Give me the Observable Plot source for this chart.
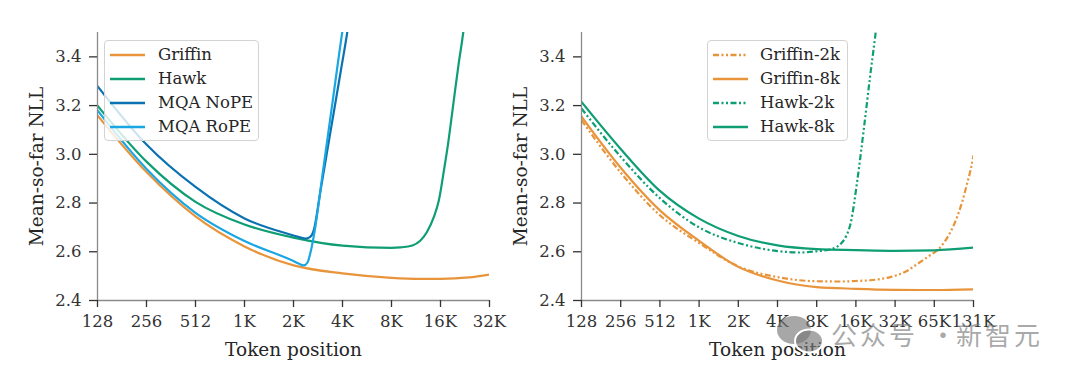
<!DOCTYPE html>
<html><head><meta charset="utf-8">
<script src="https://cdn.jsdelivr.net/npm/d3@7"></script>
<script src="https://cdn.jsdelivr.net/npm/@observablehq/plot@0.6"></script>
<style>
body{margin:0;background:#fff;}
#wrap{position:relative;width:1080px;height:380px;font-family:"DejaVu Serif",serif;overflow:hidden;}
#left{position:absolute;left:0;top:0;}
#right{position:absolute;left:540px;top:0;}
.legend{position:absolute;background:rgba(255,255,255,0.8);border:1.5px solid #d3d3d3;border-radius:4px;font-size:16.5px;color:#262626;box-sizing:border-box;}
.legend .row{position:absolute;left:0;height:20px;line-height:20px;white-space:nowrap;}
.legend svg{position:absolute;top:0;}
.legend span{position:absolute;top:0;}
.wm{position:absolute;font-family:"Noto Sans CJK SC",sans-serif;font-size:26px;color:rgba(130,130,130,0.7);letter-spacing:3px;line-height:30px;}
</style></head>
<body><div id="wrap"><div id="left"></div><div id="right"></div></div>
<script>
// ---------- Left panel data ----------
const leftTicks = [128, 256, 512, 1024, 2048, 4096, 8192, 16384, 32768];
const leftTickLabels = ["128", "256", "512", "1K", "2K", "4K", "8K", "16K", "32K"];

const griffinX = [128, 256, 512, 1024, 2048, 4096, 8192, 12288, 16384, 24576, 32768];
const griffinY = [3.16, 2.927, 2.745, 2.622, 2.544, 2.511, 2.493, 2.489, 2.489, 2.495, 2.507];

const hawkX = [128, 256, 512, 1024, 2048, 4096, 8192, 9300, 11000, 12300, 13500, 14900, 16000, 17200, 18300, 19300, 20300, 21200, 22800, 23500];
const hawkY = [3.20, 2.97, 2.805, 2.712, 2.658, 2.625, 2.616, 2.618, 2.626, 2.645, 2.68, 2.742, 2.81, 2.934, 3.05, 3.167, 3.28, 3.373, 3.52, 3.6];

const nopeX = [128, 256, 512, 1024, 2048, 2250, 2426, 2567, 2727, 3000, 3456, 3981, 4393, 4600];
const nopeY = [3.28, 3.04, 2.866, 2.737, 2.667, 2.659, 2.654, 2.659, 2.688, 2.85, 3.093, 3.335, 3.506, 3.6];

const ropeX = [128, 256, 512, 1024, 2048, 2200, 2369, 2496, 2621, 2767, 3085, 3554, 4096, 4300];
const ropeY = [3.18, 2.94, 2.76, 2.644, 2.562, 2.552, 2.544, 2.556, 2.605, 2.688, 2.916, 3.212, 3.508, 3.6];

// ---------- Right panel data ----------
const rightTicks = [128, 256, 512, 1024, 2048, 4096, 8192, 16384, 32768, 65536, 131072];
const rightTickLabels = ["128", "256", "512", "1K", "2K", "4K", "8K", "16K", "32K", "65K", "131K"];

const griffin2kX = [128, 256, 512, 1024, 2048, 4096, 8192, 12500, 16384, 24576, 30000, 40000, 48000, 58000, 73000, 85000, 98000, 108000, 117000, 125000, 131072];
const griffin2kY = [3.14, 2.925, 2.75, 2.636, 2.54, 2.496, 2.479, 2.478, 2.48, 2.487, 2.496, 2.52, 2.548, 2.578, 2.619, 2.67, 2.742, 2.81, 2.88, 2.94, 2.996];

const griffin8kX = [128, 256, 512, 1024, 2048, 4096, 8192, 16384, 32768, 65536, 131072];
const griffin8kY = [3.155, 2.945, 2.77, 2.645, 2.538, 2.482, 2.455, 2.448, 2.444, 2.443, 2.446];

const hawk2kX = [128, 256, 512, 1024, 2048, 4096, 6144, 8192, 10000, 11500, 12500, 13800, 14900, 16800, 18800, 21200, 23200, 24000];
const hawk2kY = [3.188, 2.99, 2.82, 2.70, 2.636, 2.603, 2.597, 2.602, 2.608, 2.618, 2.632, 2.665, 2.715, 2.893, 3.099, 3.332, 3.496, 3.56];

const hawk8kX = [128, 256, 512, 1024, 2048, 4096, 8192, 16384, 32768, 65536, 131072];
const hawk8kY = [3.215, 3.022, 2.85, 2.736, 2.665, 2.626, 2.611, 2.607, 2.604, 2.606, 2.617];

const yTicks = [2.4, 2.6, 2.8, 3.0, 3.2, 3.4];

// ---------- styles ----------
const ORANGE = "#e8943a", GREEN = "#0f9e74", BLUE = "#0a72b0", LIGHTBLUE = "#1aa6e2";
const DASH = "6,2.5,2,2.5,2,2.5";

const leftSeries = [
  {name: "Griffin", xs: griffinX, ys: griffinY, color: ORANGE, dash: null},
  {name: "Hawk", xs: hawkX, ys: hawkY, color: GREEN, dash: null},
  {name: "MQA NoPE", xs: nopeX, ys: nopeY, color: BLUE, dash: null},
  {name: "MQA RoPE", xs: ropeX, ys: ropeY, color: LIGHTBLUE, dash: null}
];
const rightSeries = [
  {name: "Griffin-2k", xs: griffin2kX, ys: griffin2kY, color: ORANGE, dash: DASH},
  {name: "Griffin-8k", xs: griffin8kX, ys: griffin8kY, color: ORANGE, dash: null},
  {name: "Hawk-2k", xs: hawk2kX, ys: hawk2kY, color: GREEN, dash: DASH},
  {name: "Hawk-8k", xs: hawk8kX, ys: hawk8kY, color: GREEN, dash: null}
];

function panel(series, ticks, tickLabels, margins) {
  const fmt = new Map(ticks.map((t, i) => [t, tickLabels[i]]));
  const xmin = ticks[0], xmax = ticks[ticks.length - 1];
  const marks = [];
  for (const s of series) {
    const data = s.xs.map((x, i) => ({x, y: s.ys[i]}));
    const opts = {x: "x", y: "y", stroke: s.color, strokeWidth: 2.2, curve: "monotone-x", clip: true};
    if (s.dash) { opts.strokeDasharray = s.dash; opts.strokeLinecap = "butt"; }
    marks.push(Plot.line(data, opts));
  }
  marks.push(Plot.ruleX([xmin], {y1: 2.4, y2: 3.5, stroke: "#8a8a8a", strokeWidth: 1.3}));
  marks.push(Plot.ruleY([2.4], {x1: xmin, x2: xmax, stroke: "#8a8a8a", strokeWidth: 1.3}));
  marks.push(Plot.axisX({ticks, tickFormat: d => fmt.get(d), tickSize: 7, tickPadding: 8, label: null, fontSize: 16.5, strokeWidth: 1.3}));
  marks.push(Plot.axisY({ticks: yTicks, tickFormat: d => d.toFixed(1), tickSize: 8, tickPadding: 8, label: null, fontSize: 16.5, strokeWidth: 1.3}));
  marks.push(Plot.text(["Token position"], {frameAnchor: "bottom", dy: 55, fontSize: 18.5, fill: "#262626"}));
  marks.push(Plot.text(["Mean-so-far NLL"], {frameAnchor: "left", rotate: -90, dx: -60, textAnchor: "middle", fontSize: 18.5, fill: "#262626"}));
  return Plot.plot({
    width: 540, height: 380,
    marginLeft: margins[0], marginRight: margins[1], marginTop: 32, marginBottom: 80,
    style: {fontFamily: "DejaVu Serif, serif", color: "#333", background: "transparent", overflow: "visible"},
    x: {type: "log", base: 2, domain: [xmin, xmax]},
    y: {domain: [2.4, 3.5]},
    marks
  });
}

document.getElementById("left").append(panel(leftSeries, leftTicks, leftTickLabels, [97, 51]));
document.getElementById("right").append(panel(rightSeries, rightTicks, rightTickLabels, [41, 107]));

function legend(series, left, top, width, height, lineX, textX) {
  const box = document.createElement("div");
  box.className = "legend";
  Object.assign(box.style, {left: left + "px", top: top + "px", width: width + "px", height: height + "px"});
  series.forEach((s, i) => {
    const row = document.createElement("div");
    row.className = "row";
    row.style.top = (4 + i * 24) + "px";
    row.style.width = "100%";
    row.innerHTML = `<svg width="40" height="20" style="left:${lineX}px"><line x1="0" x2="35" y1="10" y2="10" stroke="${s.color}" stroke-width="2.4" ${s.dash ? `stroke-dasharray="${s.dash}"` : ""}/></svg><span style="left:${textX}px">${s.name}</span>`;
    box.append(row);
  });
  document.getElementById("wrap").append(box);
}
legend(leftSeries, 104, 40, 155, 101, 5, 53);
legend(rightSeries, 707, 40, 141, 101, 5, 52);

// watermark overlay
const wrap = document.getElementById("wrap");
const icon = document.createElementNS("http://www.w3.org/2000/svg", "svg");
icon.setAttribute("width", "60"); icon.setAttribute("height", "45");
Object.assign(icon.style, {position: "absolute", left: "772px", top: "312px"});
icon.innerHTML = `<ellipse cx="22" cy="18" rx="17" ry="14" fill="rgba(120,120,120,0.65)"/><ellipse cx="37" cy="29" rx="14" ry="11.5" fill="rgba(120,120,120,0.65)" stroke="#fff" stroke-width="2"/>`;
wrap.append(icon);
[["公众号", 831], ["·", 930], ["新智元", 956]].forEach(([t, x]) => {
  const d = document.createElement("div");
  d.className = "wm"; d.textContent = t;
  Object.assign(d.style, {left: x + "px", top: "319px"});
  wrap.append(d);
});
</script></body></html>
